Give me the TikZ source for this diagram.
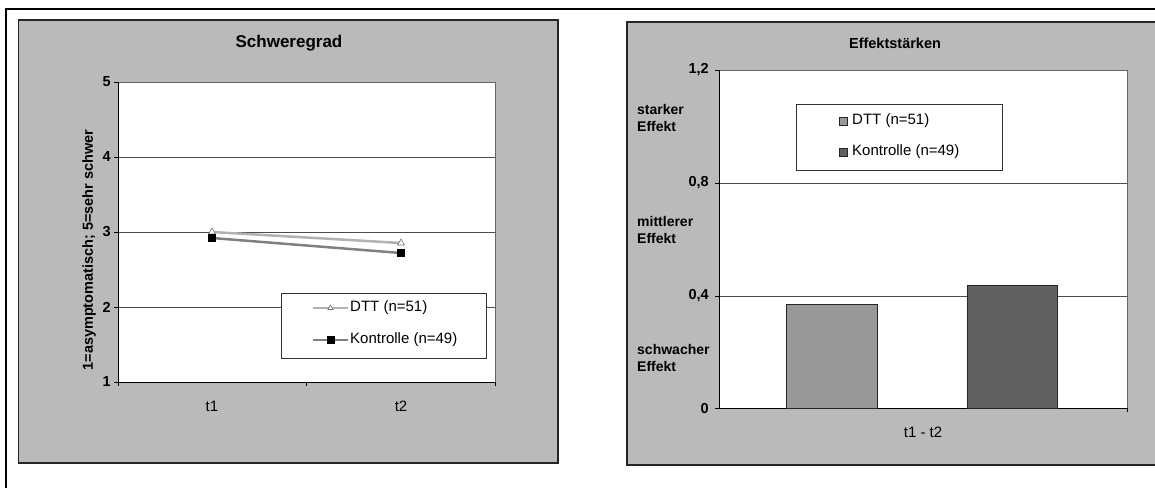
\documentclass[tikz,border=0pt]{standalone}
\usepackage{fontspec}
\setmainfont{Liberation Sans}
\usetikzlibrary{shapes.geometric}

\begin{document}
\begin{tikzpicture}[x=1pt,y=-1pt,
  panel/.style={draw=black!85, fill=black!27, line width=1.2pt},
  plotarea/.style={draw=black!60, fill=white, line width=0.6pt},
  gridline/.style={draw=black!70, line width=0.8pt},
  axisline/.style={draw=black, line width=1pt},
  ticklabel/.style={font=\fontsize{14.5}{17}\selectfont\bfseries, inner sep=0pt},
  catlabel/.style={font=\fontsize{15}{17}\selectfont, inner sep=0pt},
  heading/.style={font=\fontsize{17}{20}\selectfont\bfseries, inner sep=0pt},
  legtext/.style={font=\fontsize{15}{18}\selectfont, anchor=west, inner sep=0pt},
  leveltext/.style={font=\fontsize{14}{17}\selectfont\bfseries, anchor=west, inner sep=0pt, align=left},
  dttline/.style={draw=black!30, line width=2.5pt},
  ktrline/.style={draw=black!50, line width=2.5pt},
  dttmark/.style={regular polygon, regular polygon sides=3, draw=black!55, fill=white, minimum size=8pt, inner sep=0pt, line width=0.6pt},
  ktrmark/.style={draw=black, fill=black, minimum size=7pt, inner sep=0pt},
  dttbar/.style={draw=black!85, fill=black!40, line width=1pt},
  ktrbar/.style={draw=black!85, fill=black!62, line width=1pt}]
 \useasboundingbox (0,0) rectangle (1155,488);
 \draw[line width=1.5pt] (5,9)--(1155,9); % Linie oben
 \draw[line width=1.2pt] (6,9)--(6,488); % Linie links

 \begin{scope} % Schweregrad
 \draw[panel] (18.5,20) rectangle (558,463);
 \draw[plotarea] (118,82) rectangle (495,382);
 \foreach \v in {2,3,4}{
    \draw[gridline] (118,{382-(\v-1)*75}) -- (495,{382-(\v-1)*75});
 }
 \draw[axisline] (118,82)--(118,382)--(495,382);
 \foreach \v in {1,...,5}{
    \draw[axisline] (114,{382-(\v-1)*75}) -- (118,{382-(\v-1)*75});
    \node[ticklabel, anchor=east] (ys\v) at (111,{382-(\v-1)*75}) {\v};
 }
 \foreach \x in {118,306.5,495}{
    \draw[axisline] (\x,382) -- (\x,386);
 }
 \node[catlabel] (t1) at (212,406) {t1};
 \node[catlabel] (t2) at (401,406) {t2};
 \node[heading] (schwere) at (289,43) {Schweregrad};
 \node[heading, font=\fontsize{14.5}{17}\selectfont\bfseries, rotate=90] (yachse) at (89,250) {1=asymptomatisch; 5=sehr schwer};

 % die Verlaeufe
 \coordinate (d1) at (212,232);
 \coordinate (d2) at (401,243);
 \coordinate (k1) at (212,238);
 \coordinate (k2) at (401,253);
 \draw[dttline] (d1) -- (d2);
 \draw[ktrline] (k1) -- (k2);
 \node[dttmark] at (d1) {};
 \node[dttmark] at (d2) {};
 \node[ktrmark] at (k1) {};
 \node[ktrmark] at (k2) {};

 % Legende
 \draw[draw=black!80, fill=white, line width=0.8pt] (281,293) rectangle (486,358);
 \coordinate (ld1) at (313,308);
 \coordinate (ld2) at (348,308);
 \coordinate (lk1) at (313,340);
 \coordinate (lk2) at (348,340);
 \draw[dttline] (ld1) -- (ld2);
 \draw[ktrline] (lk1) -- (lk2);
 \node[dttmark, minimum size=6pt] at (330.5,308) {};
 \node[ktrmark] at (330.5,340) {};
 \node[legtext] (ldtt) at (350,308) {DTT (n=51)};
 \node[legtext] (lktr) at (350,340) {Kontrolle (n=49)};
 \end{scope}

 \begin{scope} % Effektstaerken
 \draw[panel] (627,22) rectangle (1170,465);
 \draw[plotarea] (719,70) rectangle (1127,408);
 \foreach \y in {183,296}{
    \draw[gridline] (719,\y) -- (1127,\y);
 }
 \draw[axisline] (719,70)--(719,408)--(1127,408);
 \foreach \y/\t in {70/{1,2},183/{0,8},296/{0,4},408/0}{
    \draw[axisline] (715,\y) -- (719,\y);
    \node[ticklabel, anchor=east] at (709,\y) {\t};
 }
 \draw[axisline] (1127,408) -- (1127,412);
 \node[leveltext] (stark) at (637,117.5) {starker\\[0pt]Effekt};
 \node[leveltext] (mittel) at (637,229.5) {mittlerer\\[0pt]Effekt};
 \node[leveltext] (schwach) at (637,358) {schwacher\\[0pt]Effekt};
 \node[heading, font=\fontsize{14.5}{17}\selectfont\bfseries] (effekt) at (895,43) {Effektstärken};
 \node[catlabel] (t12) at (923,432) {t1 - t2};

 % die Balken
 \draw[dttbar] (786,408) rectangle (877,304);
 \draw[ktrbar] (967,408) rectangle (1057,285);

 % Legende
 \draw[draw=black!80, fill=white, line width=0.8pt] (796,104) rectangle (1002,170);
 \node[draw=black!85, fill=black!40, minimum size=8pt, inner sep=0pt] at (843,121) {};
 \node[draw=black!85, fill=black!62, minimum size=8pt, inner sep=0pt] at (843,152) {};
 \node[legtext] (bdtt) at (852,121) {DTT (n=51)};
 \node[legtext] (bktr) at (852,152) {Kontrolle (n=49)};
 \end{scope}
\end{tikzpicture}
\end{document}
